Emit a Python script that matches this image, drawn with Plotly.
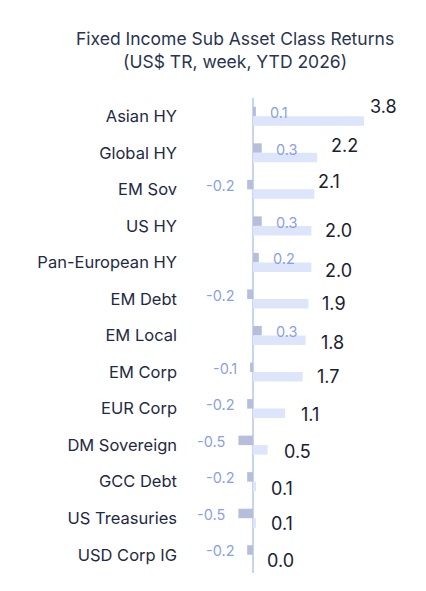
import plotly.graph_objects as go

categories = ["Asian HY", "Global HY", "EM Sov", "US HY", "Pan-European HY", "EM Debt",
              "EM Local", "EM Corp", "EUR Corp", "DM Sovereign", "GCC Debt",
              "US Treasuries", "USD Corp IG"]
week = [0.1, 0.3, -0.2, 0.3, 0.2, -0.2, 0.3, -0.1, -0.2, -0.5, -0.2, -0.5, -0.2]
ytd = [3.8, 2.2, 2.1, 2.0, 2.0, 1.9, 1.8, 1.7, 1.1, 0.5, 0.1, 0.1, 0.0]

# label placement nudges (pixels) for the YTD value labels, as in the original design
ytd_label_lift = [15, 12, 13, 0, -3, 0, -2, 0, -1, -2, -2, -1, -1]
ytd_label_gap = [4, 12, 2, 12, 12, 12, 13, 12, 14, 14, 13, 13, 12]

WEEK_COLOR = "#b6bed9"
YTD_COLOR = "#dde5fb"
FONT = "Inter"

fig = go.Figure()
fig.add_trace(go.Bar(y=categories, x=week, orientation="h", name="Week",
                     marker=dict(color=WEEK_COLOR, line=dict(width=0)), hoverinfo="skip"))
fig.add_trace(go.Bar(y=categories, x=ytd, orientation="h", name="YTD",
                     marker=dict(color=YTD_COLOR, line=dict(width=0)), hoverinfo="skip"))

bargap = 0.48
plot_h = 591 - 98 - 18
row_px = plot_h / len(categories)
half = (1 - bargap) * row_px / 4  # center offset of each bar within group

annotations = []
for c, w, y, lift, gap in zip(categories, week, ytd, ytd_label_lift, ytd_label_gap):
    annotations.append(dict(
        x=w, y=c, xref="x", yref="y", text=f"{w:.1f}", showarrow=False,
        xanchor="left" if w >= 0 else "right", xshift=12 if w >= 0 else -11,
        yshift=half - 1, font=dict(family=FONT, size=14.5, color="#8c9fe4")))
    annotations.append(dict(
        x=y, y=c, xref="x", yref="y", text=f"{y:.1f}", showarrow=False,
        xanchor="left", xshift=gap, yshift=-half + lift,
        font=dict(family=FONT, size=18, color="#1b2030")))

# chart title (two lines)
annotations.append(dict(
    x=235 / 426, xref="container" if False else "paper", y=1 + 48 / plot_h, yref="paper",
    text="Fixed Income Sub Asset Class Returns<br>(US$ TR, week, YTD 2026)",
    showarrow=False, xanchor="center", yanchor="middle", align="center",
    font=dict(family=FONT, size=17.5, color="#2a3450")))
# convert title x from page fraction to paper fraction
plot_w = 426 - 190 - 6
annotations[-1]["x"] = (235 - 190) / plot_w

fig.update_layout(
    width=426, height=591,
    margin=dict(l=190, r=6, t=98, b=18),
    paper_bgcolor="white", plot_bgcolor="white",
    barmode="group", bargap=bargap, bargroupgap=0,
    showlegend=False,
    font=dict(family=FONT),
    annotations=annotations,
)
fig.update_xaxes(range=[-2.158, 5.72], showgrid=False, showticklabels=False, ticks="",
                 zeroline=True, zerolinecolor="#c6d4f6", zerolinewidth=2, fixedrange=True)
fig.update_yaxes(autorange="reversed", showgrid=False, ticks="", showline=False,
                 ticklabelstandoff=12,
                 tickfont=dict(family=FONT, size=16.5, color="#1f2a44"), fixedrange=True)

fig.write_html("out.html", config={"displayModeBar": False})
